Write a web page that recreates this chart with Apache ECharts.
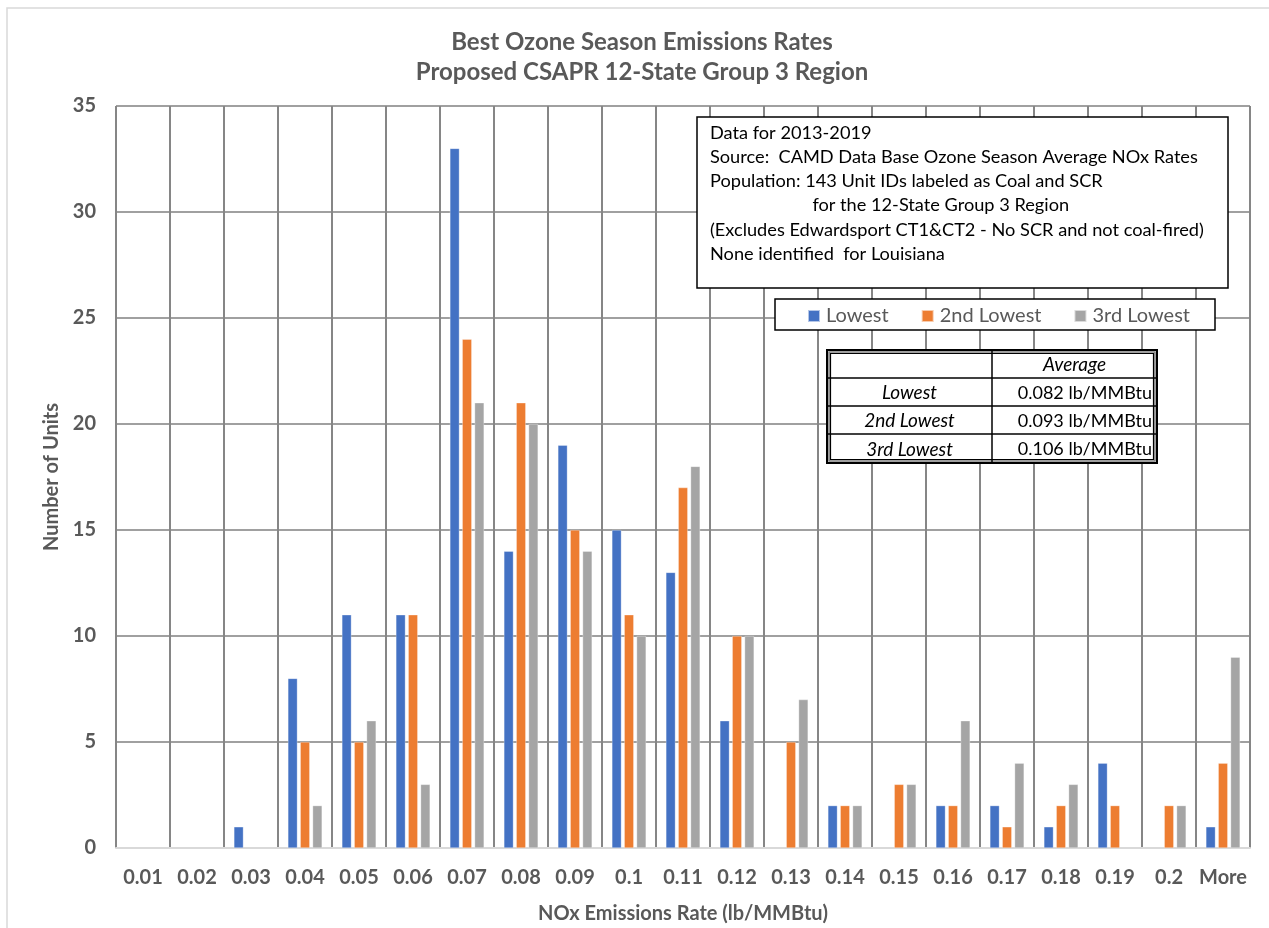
<!DOCTYPE html>
<html>
<head>
<meta charset="utf-8">
<script src="https://cdn.jsdelivr.net/npm/echarts@6/dist/echarts.min.js"></script>
<style>
html,body{margin:0;padding:0;background:#fff;}
#chart{width:1269px;height:928px;}
</style>
</head>
<body>
<div id="chart"></div>
<script>
const categories = ['0.01','0.02','0.03','0.04','0.05','0.06','0.07','0.08','0.09','0.1','0.11','0.12','0.13','0.14','0.15','0.16','0.17','0.18','0.19','0.2','More'];
const lowest     = [null,null,1,8,11,11,33,14,19,15,13,6,null,2,null,2,2,1,4,null,1];
const second     = [null,null,null,5,5,11,24,21,15,11,17,10,5,2,3,2,1,2,2,2,4];
const third      = [null,null,null,2,6,3,21,20,14,10,18,10,7,2,3,6,4,3,null,2,9];
const seriesNames = ['Lowest','2nd Lowest','3rd Lowest'];
const titleLines = ['Best Ozone Season Emissions Rates','Proposed CSAPR 12-State Group 3 Region'];
const noteLines = ['Data for 2013-2019','Source:  CAMD Data Base Ozone Season Average NOx Rates','Population: 143 Unit IDs labeled as Coal and SCR','                      for the 12-State Group 3 Region','(Excludes Edwardsport CT1&CT2 - No SCR and not coal-fired)','None identified  for Louisiana'];
const tableHeader = 'Average';
const tableRows = [['Lowest','0.082 lb/MMBtu'],['2nd Lowest','0.093 lb/MMBtu'],['3rd Lowest','0.106 lb/MMBtu']];
const colors = ['#4472C4','#ED7D31','#A5A5A5'];

const FONT = 'Lato, "Open Sans", sans-serif';
const chart = echarts.init(document.getElementById('chart'));

const graphics = [];
// outer chart border (left + top visible)
graphics.push({type:'rect', shape:{x:7,y:8,width:1400,height:1000}, style:{fill:'none',stroke:'#d9d9d9',lineWidth:1.5}, z:-10, silent:true});
// titles
titleLines.forEach((t,i)=>{
  graphics.push({type:'text', x:642, y:42+i*30, style:{text:t, font:'bold 24px '+FONT, fill:'#595959', align:'center', verticalAlign:'middle'}, z:10});
});
// note box
graphics.push({type:'rect', shape:{x:697,y:117,width:531,height:171}, style:{fill:'#fff',stroke:'#000',lineWidth:1.5}, z:10});
noteLines.forEach((t,i)=>{
  graphics.push({type:'text', x:710, y:133+i*24.2, style:{text:t, font:'18.2px '+FONT, fill:'#000', align:'left', verticalAlign:'middle'}, z:11});
});
// table
const tx=827, ty=350, tw=330, cx=992;
const rowY = [350,378,406,434,463];
graphics.push({type:'rect', shape:{x:tx,y:ty,width:tw,height:rowY[4]-ty}, style:{fill:'#fff',stroke:'#000',lineWidth:2}, z:10});
graphics.push({type:'rect', shape:{x:tx+2,y:ty+2,width:tw-4,height:rowY[4]-ty-4}, style:{fill:'none',stroke:'#808080',lineWidth:1.5}, z:11});
graphics.push({type:'rect', shape:{x:tx+3.5,y:ty+3.5,width:tw-7,height:rowY[4]-ty-7}, style:{fill:'none',stroke:'#000',lineWidth:1.2}, z:11});
graphics.push({type:'line', shape:{x1:cx,y1:ty,x2:cx,y2:rowY[4]}, style:{stroke:'#000',lineWidth:1.5}, z:11});
for(let r=1;r<4;r++){
  graphics.push({type:'line', shape:{x1:tx,y1:rowY[r],x2:tx+tw,y2:rowY[r]}, style:{stroke:'#000',lineWidth:1.5}, z:11});
}
graphics.push({type:'text', x:(cx+tx+tw)/2, y:(rowY[0]+rowY[1])/2+1, style:{text:tableHeader, font:'italic 19px '+FONT, fill:'#000', align:'center', verticalAlign:'middle'}, z:12});
tableRows.forEach((row,i)=>{
  const yc = (rowY[i+1]+rowY[i+2])/2+1;
  graphics.push({type:'text', x:(tx+cx)/2, y:yc, style:{text:row[0], font:'italic 19px '+FONT, fill:'#000', align:'center', verticalAlign:'middle'}, z:12});
  graphics.push({type:'text', x:tx+tw-5, y:yc, style:{text:row[1], font:'18px '+FONT, fill:'#000', align:'right', verticalAlign:'middle'}, z:12});
});
// legend box frame
graphics.push({type:'rect', shape:{x:775,y:299,width:440,height:31}, style:{fill:'#fff',stroke:'#000',lineWidth:1.5}, z:10});

const dataArr = [lowest, second, third];
const series = dataArr.map((d,i)=>({
  name: seriesNames[i], type:'bar', data:d,
  barWidth: 9.5, barGap:'30%',
  itemStyle:{color:colors[i], borderColor:'rgba(255,255,255,0.6)', borderWidth:0.5},
  z:2
}));

chart.setOption({
  animation:false,
  color: colors,
  grid:{left:116, right:19, top:106, bottom:80, containLabel:false, outerBoundsMode:'none'},
  legend:{
    data: seriesNames, left:807, top:306, itemWidth:12, itemHeight:12, icon:'rect', itemGap:32, padding:0,
    textStyle:{fontFamily:FONT, fontSize:20, color:'#595959', padding:[0,0,0,1]}, z:20
  },
  xAxis:{
    type:'category', data:categories,
    axisTick:{show:false},
    axisLine:{lineStyle:{color:'#d9d9d9', width:2}},
    axisLabel:{interval:0, fontFamily:FONT, fontSize:20, fontWeight:'bold', color:'#595959', margin:20},
    splitLine:{show:true, interval:0, lineStyle:{color:'#868686', width:2}},
    name:'NOx Emissions Rate (lb/MMBtu)', nameLocation:'middle', nameGap:56,
    nameTextStyle:{fontFamily:FONT, fontSize:20, fontWeight:'bold', color:'#595959'}
  },
  yAxis:{
    type:'value', min:0, max:35, interval:5,
    axisLine:{show:false}, axisTick:{show:false},
    axisLabel:{fontFamily:FONT, fontSize:20, fontWeight:'bold', color:'#595959', margin:20},
    splitLine:{lineStyle:{color:'#a0a0a0', width:2}},
    name:'Number of Units', nameLocation:'middle', nameGap:47,
    nameTextStyle:{fontFamily:FONT, fontSize:20, fontWeight:'bold', color:'#595959'}
  },
  graphic: graphics,
  series: series
});
</script>
</body>
</html>
